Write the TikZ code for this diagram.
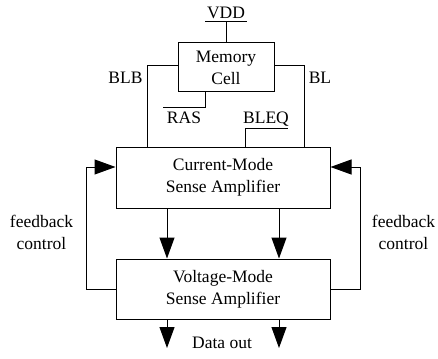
\documentclass[tikz,border=0pt]{standalone}
\usepackage{fontspec}
\setmainfont{Liberation Serif}
\usetikzlibrary{arrows.meta}

\tikzset{
  block/.style={draw, line width=1pt, minimum width=214pt, minimum height=61pt, align=center, inner sep=0pt},
  lbl/.style={inner sep=0pt, align=center},
  flow/.style={line width=1pt, -{Triangle[length=21pt,width=15pt]}},
}

\begin{document}
\begin{tikzpicture}[x=1pt,y=-1pt,line width=1pt,font=\fontsize{17.5}{22}\selectfont]
\useasboundingbox (0,0) rectangle (438,358);

\node[block, minimum width=96pt, minimum height=49pt](cell) at (226,67.5) {Memory\\Cell};

\node[block](cmsa) at (223,177.5) {Current-Mode\\Sense Amplifier};

\node[block, minimum height=60pt](vmsa) at (223,289) {Voltage-Mode\\Sense Amplifier};

\node[lbl](vdd) at (226,13) {VDD};
\node[lbl](blbl) at (125.5,78) {BLB};
\node[lbl](bll) at (320,78) {BL};
\node[lbl](rasl) at (184,118) {RAS};
\node[lbl](bleql) at (266,119) {BLEQ};
\node[lbl](fbleft) at (41.5,232) {feedback\\control};
\node[lbl](fbright) at (403.5,232) {feedback\\control};
\node[lbl](dout) at (222,343) {Data out};

\coordinate (vdda) at (205,22);
\coordinate (vddb) at (247,22);
\coordinate (vddc) at (226,22);
\coordinate (blb) at (147,66);
\coordinate (bl) at (304,66);
\coordinate (rasa) at (163,108);
\coordinate (rasb) at (205,108);
\coordinate (bleqa) at (245,129);
\coordinate (bleqb) at (288,129);
\coordinate (fbl) at (86,167);
\coordinate (fbr) at (360,167);

% supply and bit lines
\draw (vdda) -- (vddb);
\draw (vddc) -- (vddc |- cell.north);
\draw (cell.west |- blb) -- (blb) -- (blb |- cmsa.north);
\draw (cell.east |- bl) -- (bl) -- (bl |- cmsa.north);
\draw (rasa) -- (rasb) -- (rasb |- cell.south);
\draw (bleqa) -- (bleqb);
\draw (bleqa) -- (bleqa |- cmsa.north);

% feedback
\draw[flow] (vmsa.west) -| (fbl) -- (fbl -| cmsa.west);
\draw[flow] (vmsa.east) -| (fbr) -- (fbr -| cmsa.east);

\foreach \x in {167,279}
{
    \draw[flow] (\x,0 |- cmsa.south) -- (\x,0 |- vmsa.north);
    \draw[flow] (\x,0 |- vmsa.south) -- (\x,348);
}

\end{tikzpicture}
\end{document}
